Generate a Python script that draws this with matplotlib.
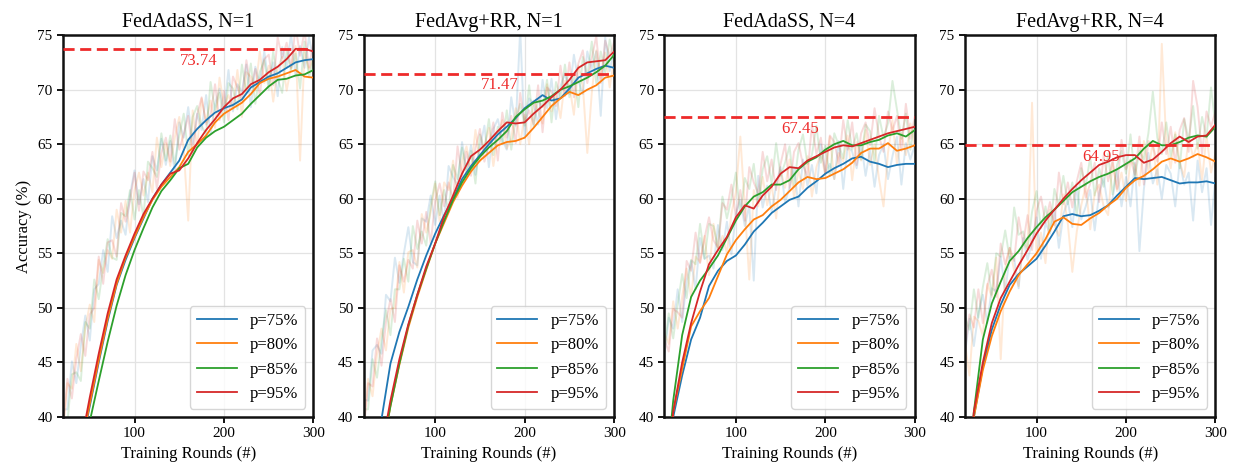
import matplotlib
matplotlib.use("Agg")
import matplotlib.pyplot as plt

plt.rcParams['font.family'] = ['Liberation Serif', 'DejaVu Serif']

# rounds
rounds_s = list(range(20, 301, 10))   # smoothed curves
rounds_r = list(range(20, 301, 5))    # raw (faint) curves

labels = ['p=75%', 'p=80%', 'p=85%', 'p=95%']
colors = ['#1f77b4', '#ff7f0e', '#2ca02c', '#d62728']
titles = ['FedAdaSS, N=1', 'FedAvg+RR, N=1', 'FedAdaSS, N=4', 'FedAvg+RR, N=4']
best = [73.74, 71.47, 67.45, 64.95]

# ---- FedAdaSS, N=1 ----
s_ada1_75 = [27.5, 32.5, 37, 41, 45, 48.8, 52.1, 54.4, 56.4, 58.2, 60.0, 61.3, 62.4, 63.5, 65.4,
             66.4, 67.2, 67.9, 68.3, 68.6, 69.1, 70.2, 70.7, 71.2, 71.5, 72.0, 72.5, 72.7, 72.8]
s_ada1_80 = [27.5, 32.5, 37, 41.2, 45.2, 49.0, 52.2, 54.6, 56.5, 58.3, 59.9, 61.1, 62.0, 62.9, 64.3,
             65.0, 65.8, 67.0, 67.8, 68.3, 68.8, 69.6, 70.6, 71.0, 71.2, 71.5, 71.8, 71.2, 71.1]
s_ada1_85 = [26.5, 31.5, 35.8, 39.6, 43.3, 46.9, 50.2, 53.0, 55.3, 57.3, 59.2, 60.7, 61.7, 62.8, 63.2,
             64.7, 65.6, 66.2, 66.6, 67.2, 67.8, 68.7, 69.5, 70.3, 70.9, 71.0, 71.3, 71.4, 71.8]
s_ada1_95 = [28, 33, 37.5, 41.8, 45.8, 49.5, 52.6, 54.8, 56.8, 58.6, 60.0, 61.3, 62.3, 62.6, 63.7,
             65.1, 66.3, 67.3, 68.4, 69.2, 69.6, 70.5, 70.9, 71.6, 72.1, 72.8, 73.74, 73.74, 73.5]

r_ada1_75 = [40.7, 40.7, 45.1, 43.1, 46.5, 49.3, 47.0, 51.7, 52.2, 55.3, 53.3, 58.4, 56.4, 58.0, 56.7,
             60.4, 62.6, 59.5, 61.8, 59.7, 63.9, 62.6, 65.5, 63.1, 65.3, 62.4, 67.0, 65.6, 68.4, 65.1,
             67.8, 66.3, 69.5, 65.9, 68.7, 70.1, 68.1, 71.8, 68.0, 70.5, 69.8, 72.3, 68.4, 72.1, 70.6,
             73.5, 70.5, 72.5, 69.4, 73.9, 72.0, 75.1, 71.2, 74.0, 72.0, 74.8, 72.7]
r_ada1_80 = [38.5, 43.1, 42.6, 46.7, 44.2, 48.2, 50.3, 48.7, 54.4, 53.2, 55.3, 54.5, 59.0, 56.9, 59.8,
             56.9, 60.8, 62.4, 60.3, 62.4, 60.6, 65.6, 62.9, 65.1, 63.0, 65.6, 67.5, 64.5, 58.0, 68.1,
             64.7, 69.2, 67.0, 69.0, 66.5, 71.1, 68.5, 69.5, 68.2, 71.8, 67.5, 71.6, 71.2, 69.9, 73.5,
             70.6, 72.2, 68.9, 71.9, 73.0, 69.9, 72.1, 74.0, 63.5, 73.4, 71.8, 73.0]
r_ada1_85 = [39.6, 39.5, 43.9, 44.1, 43.3, 48.7, 48.1, 52.6, 50.8, 53.8, 56.3, 54.6, 54.4, 58.7, 58.4,
             60.8, 58.1, 60.8, 58.3, 63.4, 62.8, 62.0, 66.0, 63.5, 65.8, 63.2, 65.8, 67.8, 64.0, 67.5,
             68.5, 66.7, 65.9, 70.7, 68.1, 69.7, 67.0, 70.6, 70.1, 68.2, 72.3, 69.7, 72.4, 68.7, 71.6,
             72.7, 70.0, 73.5, 71.0, 69.7, 73.5, 71.8, 73.3, 70.1, 74.4, 71.1, 73.0]
r_ada1_95 = [39.0, 43.5, 41.7, 45.3, 47.6, 45.6, 49.4, 50.0, 54.7, 52.2, 56.0, 56.2, 54.7, 59.6, 57.9,
             59.8, 62.4, 58.9, 62.5, 61.7, 64.3, 60.9, 64.2, 65.6, 63.4, 67.3, 64.5, 65.9, 67.6, 64.1,
             67.7, 69.3, 66.8, 67.7, 70.5, 67.2, 69.9, 67.2, 71.2, 70.2, 69.1, 72.7, 70.2, 71.9, 69.5,
             72.8, 73.2, 70.4, 74.8, 72.9, 74.3, 72.0, 75.8, 73.1, 75.4, 72.0, 74.5]

# ---- FedAvg+RR, N=1 ----
s_rr1_75 = [30, 35, 39.8, 44.9, 47.8, 50.1, 52.6, 54.8, 56.8, 58.5, 60.0, 61.8, 63.0, 64.0, 65.0,
            65.9, 66.6, 67.4, 68.3, 68.9, 69.5, 69.0, 69.2, 70.1, 71.1, 71.5, 71.9, 72.2, 72.0]
s_rr1_80 = [27.5, 32, 36.5, 41, 44.8, 48.2, 51.0, 53.5, 55.9, 57.8, 59.7, 61.2, 62.5, 63.5, 64.2,
            64.9, 65.2, 65.3, 65.6, 66.5, 67.5, 68.5, 69.2, 69.8, 69.5, 70.0, 70.4, 71.1, 71.3]
s_rr1_85 = [27.5, 32, 36.5, 41, 44.9, 48.4, 51.2, 53.6, 55.9, 58.0, 59.9, 61.5, 62.8, 63.85, 64.7,
            65.4, 66.2, 67.5, 68.2, 68.8, 69.0, 69.4, 70.0, 70.3, 70.7, 71.1, 71.6, 72.2, 73.2]
s_rr1_95 = [28, 32.5, 37, 41.5, 45.3, 48.5, 51.2, 53.8, 55.9, 58.4, 60.3, 62.3, 63.9, 64.5, 65.3,
            66.2, 67.0, 66.9, 67.0, 67.8, 68.5, 69.3, 70.0, 70.9, 72.0, 72.5, 72.6, 72.7, 73.5]

r_rr1_75 = [41.6, 41.5, 46.1, 46.6, 45.8, 51.2, 50.6, 54.6, 52.3, 55.0, 57.4, 54.2, 53.9, 58.2, 57.9,
            60.3, 57.6, 60.3, 57.8, 63.0, 62.0, 61.2, 65.2, 62.7, 64.9, 62.2, 64.7, 66.7, 62.9, 66.4,
            67.3, 65.4, 64.5, 69.3, 66.7, 75.5, 65.6, 69.2, 68.7, 66.8, 70.9, 68.3, 71.0, 67.3, 70.3,
            71.5, 69.6, 73.2, 70.8, 69.6, 73.5, 71.9, 73.5, 67.6, 74.8, 71.7, 73.7]
r_rr1_80 = [39.0, 43.5, 41.9, 45.8, 48.1, 46.1, 49.9, 50.0, 54.2, 51.4, 55.1, 55.3, 53.7, 58.6, 56.9,
            58.8, 61.4, 57.9, 61.5, 60.8, 63.5, 60.1, 63.4, 64.8, 62.5, 66.3, 63.4, 64.8, 66.5, 63.0,
            65.7, 67.2, 64.6, 65.5, 68.3, 65.0, 67.7, 65.0, 69.0, 68.0, 66.9, 70.5, 68.0, 69.7, 67.4,
            70.8, 70.4, 67.7, 72.2, 70.4, 64.2, 69.7, 73.6, 71.0, 73.4, 70.2, 72.8]
r_rr1_85 = [40.7, 40.7, 45.3, 43.6, 47.0, 49.8, 47.5, 51.7, 51.7, 54.5, 52.4, 57.5, 55.4, 57.0, 55.7,
            59.4, 61.6, 58.5, 60.8, 58.8, 63.1, 61.8, 64.7, 62.3, 64.4, 61.4, 65.9, 64.5, 67.3, 64.0,
            66.6, 65.0, 68.1, 64.5, 67.3, 68.7, 66.7, 70.4, 66.6, 69.1, 68.4, 70.9, 67.0, 70.7, 69.3,
            72.3, 69.3, 71.4, 68.4, 73.0, 71.2, 74.4, 70.6, 73.5, 71.6, 74.6, 72.6]
r_rr1_95 = [38.5, 43.1, 42.8, 47.2, 44.7, 48.7, 50.8, 48.7, 53.9, 52.4, 54.4, 53.6, 58.0, 55.9, 58.8,
            55.9, 59.8, 61.4, 59.3, 61.5, 59.8, 64.8, 62.1, 64.3, 62.1, 64.6, 66.4, 63.4, 64.9, 67.0,
            63.5, 67.9, 65.6, 67.6, 65.1, 69.7, 67.1, 68.1, 66.8, 70.4, 66.1, 70.2, 69.8, 68.5, 72.2,
            69.4, 72.5, 69.3, 72.4, 73.6, 70.6, 72.9, 74.9, 70.6, 74.5, 73.1, 74.4]

# ---- FedAdaSS, N=4 ----
s_ada4_75 = [31.5, 40, 43.8, 47.1, 49.1, 52.0, 53.4, 54.3, 54.8, 55.8, 57.0, 57.8, 58.7, 59.3, 59.9,
             60.2, 61.0, 61.6, 62.3, 62.8, 63.2, 63.7, 63.85, 63.4, 63.2, 62.9, 63.1, 63.2, 63.2]
s_ada4_80 = [32, 40.5, 44.4, 48.3, 49.7, 50.9, 52.9, 54.9, 56.2, 57.2, 58.1, 58.5, 59.3, 59.9, 60.7,
             61.5, 62.0, 61.8, 61.9, 62.3, 62.7, 63.3, 64.2, 64.6, 64.6, 65.1, 64.4, 64.6, 64.9]
s_ada4_85 = [33, 41.5, 47.5, 51.0, 52.5, 53.6, 54.8, 56.4, 58.0, 59.3, 60.2, 60.6, 61.3, 61.3, 61.7,
             62.7, 63.4, 63.8, 64.5, 65.0, 65.3, 64.9, 64.9, 65.2, 65.4, 65.8, 66.0, 65.7, 66.3]
s_ada4_95 = [32, 40.5, 45, 48.6, 51.5, 54.0, 55.3, 56.5, 58.3, 59.4, 59.1, 60.3, 61.1, 62.3, 62.9,
             62.8, 63.5, 63.9, 64.3, 64.7, 64.9, 64.8, 65.1, 65.4, 65.7, 66.0, 66.2, 66.4, 66.6]

r_ada4_75 = [45.5, 49.1, 48.1, 51.7, 48.7, 52.5, 54.3, 51.7, 56.4, 54.5, 54.8, 53.6, 57.6, 55.3, 57.9,
             54.9, 58.6, 59.9, 57.5, 59.4, 52.5, 62.1, 59.2, 61.2, 58.8, 61.2, 62.9, 59.7, 61.0, 62.9,
             59.3, 63.6, 61.2, 63.1, 60.5, 65.0, 62.3, 63.2, 61.8, 65.3, 60.9, 64.9, 64.3, 62.8, 65.1,
             62.1, 64.5, 61.1, 64.0, 65.0, 61.8, 63.9, 65.7, 61.3, 65.1, 63.6, 64.9]
r_ada4_80 = [47.7, 46.7, 50.6, 48.1, 51.0, 53.6, 51.0, 54.7, 54.2, 56.6, 53.0, 57.7, 55.2, 56.6, 55.0,
             58.6, 60.6, 65.7, 59.2, 52.6, 60.8, 59.3, 62.0, 59.4, 61.3, 58.2, 62.6, 61.0, 63.6, 60.1,
             62.6, 60.9, 63.9, 60.2, 62.9, 64.2, 62.1, 65.7, 61.8, 64.2, 63.4, 65.8, 61.7, 65.2, 63.5,
             66.3, 63.1, 65.0, 61.8, 59.3, 64.2, 67.2, 63.2, 66.0, 64.0, 66.9, 64.9]
r_ada4_85 = [46.0, 49.5, 47.2, 50.3, 53.1, 50.9, 54.4, 54.0, 57.7, 54.5, 57.7, 57.5, 55.5, 60.2, 58.2,
             60.0, 62.4, 58.6, 61.9, 60.9, 63.2, 59.6, 62.7, 63.9, 61.4, 65.1, 62.1, 63.3, 64.8, 61.1,
             64.5, 65.9, 63.2, 64.0, 66.7, 63.3, 64.9, 62.1, 66.0, 64.9, 63.7, 67.2, 64.5, 66.0, 63.6,
             66.8, 66.2, 63.3, 67.6, 65.6, 66.9, 70.8, 68.2, 65.5, 67.8, 64.5, 67.1]
r_ada4_95 = [47.1, 46.0, 49.9, 49.6, 49.1, 54.3, 53.4, 56.9, 54.1, 56.4, 58.3, 56.2, 55.5, 59.6, 59.0,
             61.3, 58.4, 60.8, 58.0, 62.9, 61.5, 60.5, 64.3, 61.6, 63.6, 60.8, 63.2, 65.0, 61.0, 64.3,
             65.1, 63.1, 62.1, 66.8, 64.1, 65.6, 62.3, 65.8, 65.2, 63.2, 67.2, 64.5, 67.0, 63.1, 66.0,
             67.0, 64.9, 68.3, 65.7, 64.3, 68.0, 66.2, 67.6, 64.4, 68.7, 65.5, 67.5]

# ---- FedAvg+RR, N=4 ----
s_rr4_75 = [31.5, 40, 44.6, 48.0, 50.3, 52.1, 53.1, 53.8, 54.5, 55.7, 57.0, 58.4, 58.6, 58.4, 58.5,
            58.9, 59.4, 60.3, 61.1, 61.9, 61.8, 61.9, 62.0, 61.7, 61.4, 61.5, 61.5, 61.6, 61.4]
s_rr4_80 = [31.5, 40, 44.3, 47.4, 49.7, 51.5, 53.0, 54.0, 55.0, 56.3, 57.9, 58.3, 57.7, 57.6, 58.2,
            58.7, 59.4, 60.0, 61.0, 61.7, 62.1, 62.7, 63.4, 63.7, 63.4, 63.7, 64.1, 63.8, 63.4]
s_rr4_85 = [32, 40.5, 47.1, 50.4, 52.4, 54.3, 55.2, 56.4, 57.4, 58.3, 59.0, 59.8, 60.6, 61.1, 61.6,
            62.0, 62.3, 62.7, 63.2, 63.7, 64.6, 65.3, 64.9, 64.9, 65.2, 65.6, 65.8, 65.7, 66.6]
s_rr4_95 = [32, 40.5, 45, 48.6, 50.9, 52.4, 53.9, 55.3, 56.8, 58.0, 59.0, 60.0, 60.9, 61.7, 62.4,
            63.1, 63.4, 63.8, 64.0, 64.0, 63.3, 63.6, 64.3, 65.1, 65.7, 65.2, 65.7, 65.8, 66.8]

r_rr4_75 = [45.7, 49.0, 46.5, 49.5, 51.2, 48.6, 51.8, 51.5, 54.7, 51.5, 54.7, 54.5, 51.8, 56.4, 54.4,
            56.0, 58.3, 54.5, 57.8, 56.8, 59.1, 55.5, 58.6, 59.8, 57.4, 61.1, 58.1, 59.3, 60.8, 57.1,
            60.5, 61.9, 59.2, 60.0, 62.7, 59.3, 62.0, 59.3, 63.3, 55.2, 60.9, 64.2, 61.4, 62.7, 60.0,
            63.1, 62.3, 59.3, 63.4, 61.3, 62.4, 58.0, 63.5, 60.6, 62.8, 57.6, 61.9]
r_rr4_80 = [46.8, 43.8, 49.2, 48.8, 47.4, 52.2, 51.0, 54.6, 45.3, 53.6, 55.5, 53.4, 52.0, 56.0, 55.4,
            68.8, 54.5, 56.9, 54.1, 59.0, 57.6, 56.6, 60.4, 57.7, 53.3, 57.0, 59.4, 61.2, 57.2, 60.5,
            61.3, 59.3, 58.5, 63.3, 60.7, 62.4, 59.8, 63.5, 63.1, 61.2, 65.3, 62.6, 65.2, 61.3, 74.2,
            65.0, 62.8, 66.1, 63.4, 62.0, 65.6, 63.8, 65.1, 61.7, 65.8, 62.4, 64.2]
r_rr4_85 = [49.2, 48.0, 51.7, 49.1, 51.9, 54.1, 51.2, 55.0, 54.7, 57.1, 54.5, 59.2, 56.7, 57.0, 55.4,
            58.8, 60.7, 57.3, 59.3, 57.0, 60.9, 59.4, 62.1, 59.5, 61.5, 58.4, 62.8, 61.2, 63.8, 60.3,
            62.8, 61.1, 64.1, 60.4, 63.1, 64.4, 62.3, 65.9, 62.0, 64.4, 63.6, 66.0, 69.8, 65.6, 64.1,
            67.0, 63.9, 65.9, 62.8, 67.3, 65.4, 68.5, 64.6, 67.5, 65.6, 70.2, 66.7]
r_rr4_95 = [46.0, 49.4, 48.2, 51.7, 48.6, 52.0, 53.5, 51.0, 55.9, 54.0, 55.5, 54.3, 58.3, 55.9, 58.5,
            55.3, 58.9, 60.2, 57.8, 59.7, 57.6, 62.4, 59.5, 61.5, 59.2, 61.6, 63.3, 60.1, 61.4, 63.3,
            59.7, 64.0, 61.6, 63.5, 60.9, 65.4, 62.7, 63.6, 62.2, 65.7, 61.3, 65.3, 64.8, 63.4, 67.0,
            64.1, 66.6, 63.3, 66.3, 67.4, 64.3, 70.8, 68.4, 64.1, 68.0, 66.6, 68.0]

smooth = [
    [s_ada1_75, s_ada1_80, s_ada1_85, s_ada1_95],
    [s_rr1_75, s_rr1_80, s_rr1_85, s_rr1_95],
    [s_ada4_75, s_ada4_80, s_ada4_85, s_ada4_95],
    [s_rr4_75, s_rr4_80, s_rr4_85, s_rr4_95],
]
raw = [
    [r_ada1_75, r_ada1_80, r_ada1_85, r_ada1_95],
    [r_rr1_75, r_rr1_80, r_rr1_85, r_rr1_95],
    [r_ada4_75, r_ada4_80, r_ada4_85, r_ada4_95],
    [r_rr4_75, r_rr4_80, r_rr4_85, r_rr4_95],
]

fig, axes = plt.subplots(1, 4, figsize=(12.34, 4.68), dpi=100)
fig.subplots_adjust(left=0.051, right=0.985, top=0.925, bottom=0.109, wspace=0.2)

for i, ax in enumerate(axes):
    # faint raw curves
    for k in range(4):
        ax.plot(rounds_r, raw[i][k], color=colors[k], alpha=0.17, lw=1.4, zorder=1)
    # smoothed curves
    for k in range(4):
        ax.plot(rounds_s, smooth[i][k], color=colors[k], lw=1.3, label=labels[k], zorder=3)

    ax.axhline(best[i], color='#ee2a2a', ls='--', lw=2.0, dashes=(4, 2), zorder=4)
    ax.text(172, best[i] - 0.35, f'{best[i]:.2f}', color='#ee2a2a', fontsize=12,
            ha='center', va='top', zorder=5)

    ax.set_xlim(20, 300)
    ax.set_ylim(40, 75)
    ax.set_xticks([100, 200, 300])
    ax.set_yticks(range(40, 76, 5))
    ax.grid(True, color='#e3e3e3', lw=0.9)
    ax.set_axisbelow(True)
    ax.tick_params(labelsize=11, width=1.3, length=4, color='black')
    for sp in ax.spines.values():
        sp.set_linewidth(1.8)
        sp.set_color('#111111')

    ax.set_title(titles[i], fontsize=14.5)
    ax.set_xlabel('Training Rounds (#)', fontsize=12)
    ax.legend(loc='lower right', fontsize=12, handlelength=2.4, framealpha=0.8,
              edgecolor='#cccccc')

axes[0].set_ylabel('Accuracy (%)', fontsize=12)

fig.savefig('out.png', dpi=100)
